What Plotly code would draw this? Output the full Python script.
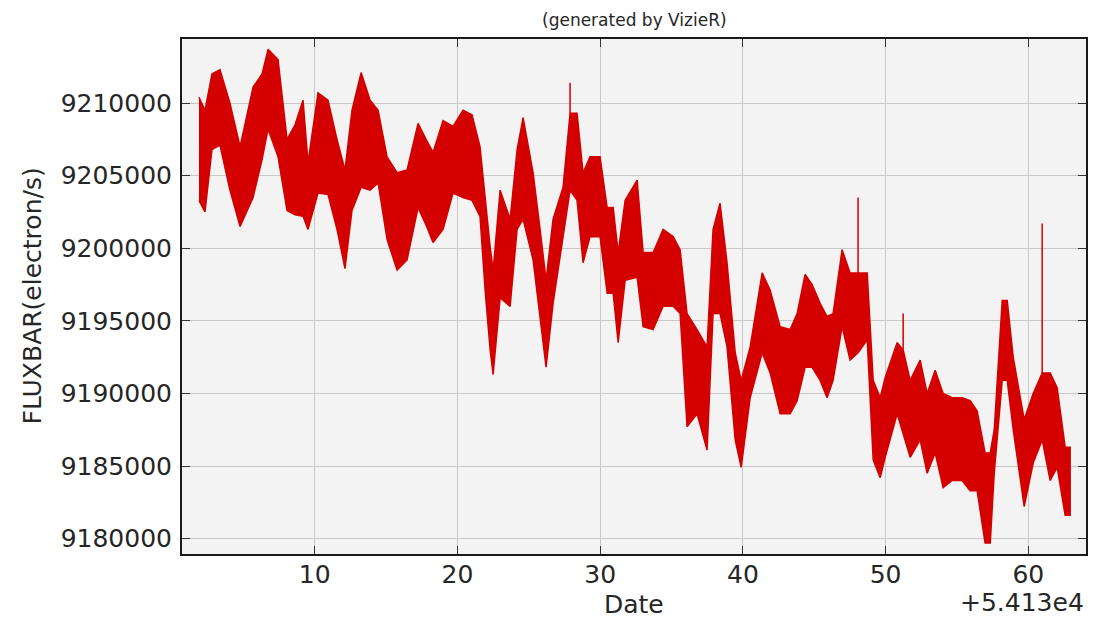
import plotly.graph_objects as go

# Date offsets (days, relative to +5.413e4)
date = [1.89, 2.31, 2.80, 3.36, 4.06, 4.77, 5.68, 6.31, 6.73, 7.43,
        8.06, 8.62, 9.18, 9.53, 10.23, 10.93, 11.56, 12.12, 12.61, 13.25,
        13.88, 14.44, 15.07, 15.77, 16.47, 17.24, 17.80, 18.29, 18.99, 19.69,
        20.39, 21.02, 21.58, 21.94, 22.29, 22.50, 22.99, 23.69, 24.18, 24.60,
        25.30, 25.79, 26.21, 26.70, 27.40, 27.89, 28.38, 28.80, 29.29, 29.99,
        30.49, 30.91, 31.26, 31.75, 32.59, 33.01, 33.71, 34.41, 35.11, 35.60,
        36.09, 36.79, 37.49, 37.91, 38.40, 38.89, 39.46, 39.88, 40.51, 41.35,
        41.91, 42.61, 43.31, 43.80, 44.36, 44.85, 45.41, 45.90, 46.32, 46.95,
        47.51, 48.07, 48.71, 49.13, 49.62, 49.97, 50.81, 51.23, 51.72, 52.42,
        52.91, 53.47, 54.03, 54.66, 55.36, 55.92, 56.41, 56.97, 57.33, 57.61,
        58.17, 58.52, 58.94, 59.71, 60.34, 60.97, 61.53, 62.02, 62.58, 62.93]

# Upper envelope of FLUXBAR (electron/s)
flux_high = [9210400, 9209500, 9212000, 9212300, 9210000, 9207000, 9211100, 9212000, 9213700, 9213000,
             9207500, 9208500, 9210200, 9205900, 9210700, 9210200, 9207500, 9205400, 9209500, 9212100,
             9210200, 9209500, 9206300, 9205200, 9205400, 9208600, 9207500, 9206600, 9208800, 9208400,
             9209500, 9209200, 9207000, 9203300, 9200100, 9198500, 9204000, 9202000, 9206800, 9209000,
             9205200, 9201300, 9197800, 9202000, 9204200, 9209300, 9209300, 9205200, 9206300, 9206300,
             9202800, 9202800, 9199700, 9203300, 9204700, 9199700, 9199700, 9201300, 9200800, 9199900,
             9195500, 9194400, 9193200, 9201300, 9203100, 9199000, 9192800, 9190900, 9193200, 9198300,
             9197100, 9194600, 9194400, 9195500, 9198200, 9197500, 9196200, 9195300, 9195500, 9199900,
             9198300, 9198300, 9198300, 9190900, 9189700, 9191100, 9193500, 9193000, 9190900, 9192300,
             9190000, 9191600, 9190000, 9189700, 9189700, 9189500, 9188800, 9185900, 9185900, 9187500,
             9196400, 9196400, 9192500, 9188200, 9190000, 9191400, 9191400, 9190400, 9186300, 9186300]

# Lower envelope of FLUXBAR (electron/s)
flux_low = [9203300, 9202500, 9206800, 9207100, 9204000, 9201500, 9203500, 9206100, 9208200, 9206300,
            9202600, 9202300, 9202200, 9201300, 9203800, 9203700, 9201300, 9198600, 9202600, 9204200,
            9204000, 9204500, 9200600, 9198500, 9199200, 9202800, 9201600, 9200400, 9201300, 9203800,
            9203500, 9203300, 9202200, 9197100, 9193000, 9191300, 9196600, 9196000, 9201300, 9202000,
            9199200, 9195100, 9191800, 9196200, 9200800, 9204000, 9203300, 9199000, 9200800, 9200800,
            9196900, 9196900, 9193500, 9197800, 9198000, 9194600, 9194400, 9196000, 9196000, 9195500,
            9187700, 9188600, 9186100, 9195500, 9195500, 9193200, 9186800, 9184900, 9189700, 9192800,
            9191400, 9188600, 9188600, 9189500, 9191800, 9191800, 9190900, 9189700, 9190900, 9194600,
            9192300, 9192800, 9193700, 9185400, 9184200, 9185600, 9188600, 9187300, 9185600, 9186800,
            9184500, 9185900, 9183500, 9184000, 9184000, 9183300, 9183300, 9179700, 9179700, 9184500,
            9190900, 9190900, 9187500, 9182200, 9185200, 9186800, 9184000, 9184900, 9181600, 9181600]

# Isolated single-point spikes
spike_date = [27.89, 48.07, 51.23, 60.97]
spike_peak = [9211400, 9203500, 9195500, 9201700]
spike_base = [9209300, 9198300, 9193000, 9191400]

x_ticks = [10, 20, 30, 40, 50, 60]
y_ticks = [9180000, 9185000, 9190000, 9195000, 9200000, 9205000, 9210000]

RED = "#d40000"
FONT = "DejaVu Sans, Liberation Sans, sans-serif"
TXT = "#262626"

fig = go.Figure()
fig.add_trace(go.Scatter(
    x=date + date[::-1],
    y=flux_high + flux_low[::-1],
    mode="lines", fill="toself", fillcolor=RED,
    line=dict(color=RED, width=1.5), hoverinfo="skip", showlegend=False))

sx, sy = [], []
for d, p, b in zip(spike_date, spike_peak, spike_base):
    sx += [d, d, None]
    sy += [b, p, None]
fig.add_trace(go.Scatter(x=sx, y=sy, mode="lines",
                         line=dict(color=RED, width=1.5), showlegend=False))

axis_common = dict(
    showline=True, linecolor="#1a1a1a", linewidth=2, mirror="ticks",
    ticks="inside", ticklen=8, tickwidth=1, tickcolor="#333",
    showgrid=True, gridcolor="#c8c8c8", gridwidth=1, zeroline=False,
    automargin=False,
    tickfont=dict(family=FONT, size=25, color=TXT),
)

fig.update_xaxes(range=[0.70, 64.04], tickvals=x_ticks,
                 ticktext=[str(v) for v in x_ticks], ticklabelstandoff=-3, **axis_common)
fig.update_yaxes(range=[9178938, 9214414], tickvals=y_ticks,
                 ticktext=[str(v) for v in y_ticks], ticklabelstandoff=3, **axis_common)

# the page places the figure 8px in from the top-left corner
fig.update_layout(
    width=1094, height=619,
    margin=dict(l=174, r=16, t=31, b=73),
    paper_bgcolor="white", plot_bgcolor="#f3f3f3",
    font=dict(family=FONT, color=TXT),
    annotations=[
        dict(text="(generated by VizieR)", xref="paper", yref="paper", x=0.5, y=1,
             yanchor="bottom", yshift=7, showarrow=False,
             font=dict(family=FONT, size=17, color=TXT)),
        dict(text="Date", xref="paper", yref="paper", x=0.5, y=0, yanchor="top",
             yshift=-34, showarrow=False, font=dict(family=FONT, size=25, color=TXT)),
        dict(text="+5.413e4", xref="paper", yref="paper", x=1, y=0, xanchor="right",
             yanchor="top", yshift=-32, showarrow=False,
             font=dict(family=FONT, size=25, color=TXT)),
        dict(text="FLUXBAR(electron/s)", xref="paper", yref="paper", x=0, y=0.5,
             xanchor="center", yanchor="middle", xshift=-150, textangle=-90,
             showarrow=False, font=dict(family=FONT, size=25, color=TXT)),
    ],
)

fig.write_html("out.html")
